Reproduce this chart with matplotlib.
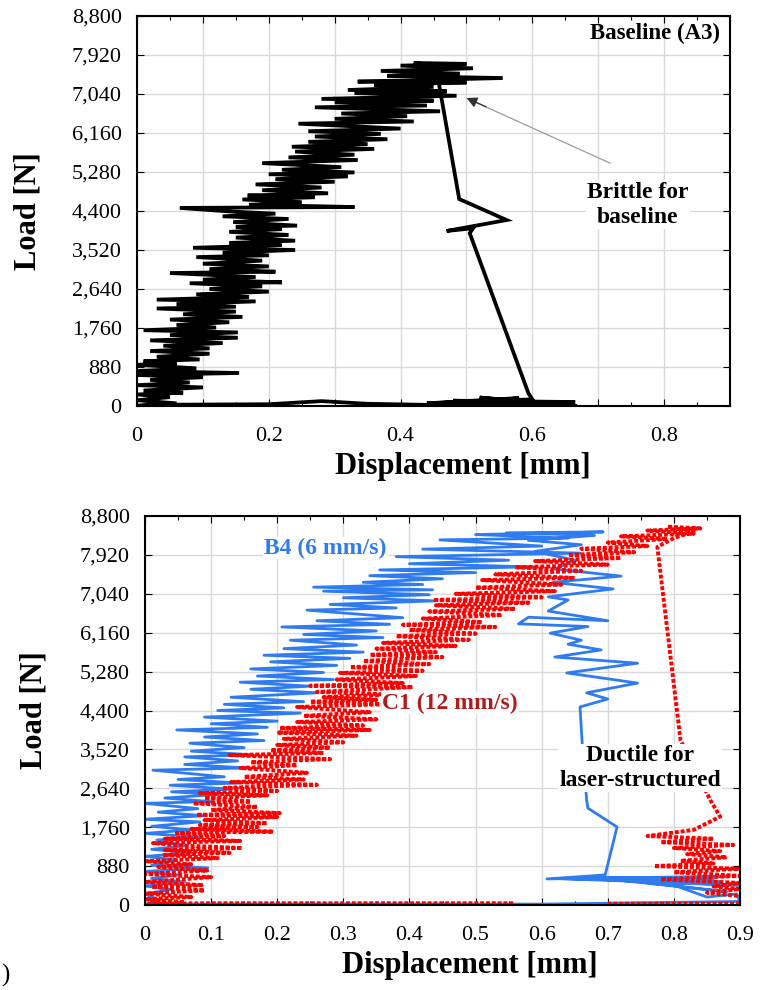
import numpy as np
import matplotlib
matplotlib.use("Agg")
import matplotlib.pyplot as plt
from matplotlib.ticker import FixedLocator, FuncFormatter, MultipleLocator

plt.rcParams['font.family'] = ['Liberation Serif', 'DejaVu Serif']

nan = np.nan

# ---------------- data (displacement mm, load N) ----------------
# Baseline A3 (top panel)
base_pts = [
    (0.00, 0), (0.06, 60), (0.00, 130), (0.05, 200), (0.00, 260), (0.07, 300),
    (0.01, 350), (0.10, 420), (0.00, 470), (0.08, 530), (0.02, 590), (0.10, 650),
    (0.00, 700), (0.155, 745), (0.00, 790), (0.09, 850), (0.00, 930), (0.06, 960),
    (0.01, 1010), (0.095, 1050), (0.03, 1110), (0.11, 1180), (0.02, 1240), (0.11, 1300),
    (0.04, 1360), (0.13, 1420), (0.02, 1480), (0.153, 1540), (0.05, 1600), (0.153, 1660),
    (0.01, 1710), (0.12, 1770), (0.06, 1830), (0.14, 1890), (0.05, 1950), (0.16, 2010),
    (0.07, 2070), (0.15, 2130), (0.03, 2200), (0.15, 2240), (0.06, 2300), (0.18, 2360),
    (0.03, 2400), (0.17, 2460), (0.09, 2520), (0.20, 2580), (0.11, 2640), (0.19, 2700),
    (0.08, 2770), (0.22, 2790), (0.10, 2850), (0.18, 2910), (0.05, 3000), (0.21, 3030),
    (0.11, 3090), (0.20, 3150), (0.10, 3210), (0.19, 3280), (0.09, 3360), (0.20, 3400),
    (0.13, 3460), (0.24, 3520), (0.085, 3570), (0.22, 3630), (0.14, 3680), (0.24, 3730),
    (0.15, 3800), (0.23, 3860), (0.14, 3930), (0.22, 3990), (0.15, 4040), (0.243, 4070),
    (0.146, 4150), (0.23, 4220), (0.13, 4280), (0.21, 4340), (0.14, 4390), (0.065, 4470),
    (0.33, 4490), (0.17, 4540), (0.25, 4600), (0.16, 4660), (0.27, 4710), (0.168, 4750),
    (0.29, 4800), (0.19, 4870), (0.28, 4930), (0.18, 5000), (0.30, 5060), (0.21, 5120),
    (0.32, 5180), (0.20, 5230), (0.33, 5270), (0.22, 5330), (0.31, 5390), (0.19, 5480),
    (0.335, 5550), (0.23, 5610), (0.33, 5670), (0.24, 5740), (0.36, 5800), (0.235, 5850),
    (0.35, 5910), (0.26, 5960), (0.38, 6020), (0.27, 6080), (0.37, 6140), (0.26, 6200),
    (0.40, 6260), (0.245, 6370), (0.42, 6420), (0.30, 6480), (0.41, 6540), (0.31, 6600),
    (0.46, 6650), (0.27, 6740), (0.44, 6780), (0.30, 6850), (0.45, 6890), (0.28, 6930),
    (0.485, 7000), (0.33, 7060), (0.47, 7100), (0.32, 7130), (0.45, 7200), (0.36, 7250),
    (0.50, 7300), (0.335, 7320), (0.555, 7400), (0.38, 7450), (0.49, 7500), (0.37, 7560),
    (0.51, 7620), (0.40, 7680), (0.50, 7720), (0.42, 7740), (0.47, 7650), (0.455, 7550),
    (0.489, 4670), (0.561, 4196), (0.47, 3950), (0.51, 4010), (0.505, 3900),
    (0.594, 290), (0.60, 150), (0.44, 60), (0.58, 180), (0.50, 40), (0.665, 90),
    (0.48, 120), (0.64, 30), (0.52, 190), (0.668, 0), (0.46, 20), (0.35, 50),
    (0.28, 110), (0.20, 40), (0.06, 30), (0.00, 10),
]
base_disp = [p[0] for p in base_pts]
base_load = [p[1] for p in base_pts]

# B4 (6 mm/s), bottom panel
b4_pts = [
    (0.00, 0), (0.02, 120), (0.00, 250), (0.04, 350), (0.00, 430), (0.06, 520),
    (0.01, 600), (0.05, 680), (0.00, 760), (0.095, 840), (0.01, 900), (0.048, 1018),
    (0.00, 1100), (0.07, 1180), (0.01, 1260), (0.06, 1340), (0.018, 1470), (0.08, 1540),
    (0.00, 1620), (0.07, 1700), (0.01, 1780), (0.083, 1880), (0.00, 1940), (0.09, 2020),
    (0.02, 2100), (0.08, 2180), (0.00, 2300), (0.10, 2340), (0.03, 2420), (0.11, 2500),
    (0.04, 2560), (0.13, 2620), (0.038, 2710), (0.144, 2760), (0.05, 2840), (0.12, 2900),
    (0.012, 3050), (0.154, 3100), (0.06, 3180), (0.14, 3260), (0.06, 3350), (0.16, 3400),
    (0.07, 3480), (0.15, 3560), (0.068, 3660), (0.18, 3720), (0.09, 3800), (0.17, 3870),
    (0.048, 3960), (0.185, 4020), (0.10, 4100), (0.20, 4160), (0.09, 4250), (0.235, 4340),
    (0.11, 4400), (0.21, 4460), (0.12, 4540), (0.24, 4600), (0.13, 4700), (0.26, 4800),
    (0.16, 4880), (0.25, 4950), (0.144, 5040), (0.285, 5100), (0.17, 5180), (0.27, 5260),
    (0.16, 5340), (0.29, 5420), (0.19, 5500), (0.31, 5580), (0.18, 5650), (0.33, 5720),
    (0.21, 5800), (0.32, 5880), (0.22, 5990), (0.36, 6050), (0.24, 6120), (0.35, 6200),
    (0.207, 6290), (0.37, 6350), (0.26, 6430), (0.39, 6500), (0.245, 6670), (0.38, 6720),
    (0.28, 6800), (0.44, 6880), (0.30, 6950), (0.43, 7020), (0.27, 7100), (0.435, 7130),
    (0.255, 7190), (0.42, 7250), (0.33, 7300), (0.45, 7380), (0.34, 7450), (0.50, 7520),
    (0.355, 7580), (0.587, 7650), (0.40, 7720), (0.55, 7800), (0.38, 7880), (0.658, 7960),
    (0.42, 8050), (0.60, 8120), (0.446, 8260), (0.64, 8300), (0.50, 8380), (0.693, 8440),
    (0.547, 8420), (0.68, 8360), (0.58, 8250), (0.66, 8150), (0.59, 8000), (0.65, 7800),
    (0.62, 7600), (0.72, 7440), (0.617, 7300), (0.708, 7150), (0.61, 6970), (0.64, 6900),
    (0.61, 6650), (0.70, 6430), (0.58, 6510), (0.565, 6360), (0.67, 6300), (0.613, 6150),
    (0.66, 5990), (0.64, 5900), (0.69, 5770), (0.62, 5610), (0.745, 5470), (0.638, 5250),
    (0.745, 5020), (0.668, 4800), (0.70, 4660), (0.658, 4480), (0.661, 3730), (0.668, 2375),
    (0.67, 2190), (0.714, 1765), (0.696, 680), (0.608, 590), (0.88, 650), (0.70, 560),
    (0.87, 520), (0.62, 600), (0.90, 450), (0.75, 520), (0.88, 300), (0.68, 620),
    (0.86, 600), (0.80, 450), (0.85, 180), (0.895, 250), (0.90, 80), (0.60, 20),
    (0.30, 25), (0.00, 20),
]
b4_disp = [p[0] for p in b4_pts]
b4_load = [p[1] for p in b4_pts]

# C1 (12 mm/s), bottom panel
c1_pts = [
    (0.00, 0), (0.06, 60), (0.00, 130), (0.07, 180), (0.00, 260), (0.09, 330),
    (0.01, 410), (0.088, 450), (0.00, 520), (0.10, 630), (0.00, 700), (0.094, 780),
    (0.02, 860), (0.07, 920), (0.00, 990), (0.11, 1060), (0.027, 1130), (0.128, 1180),
    (0.03, 1240), (0.147, 1290), (0.05, 1350), (0.012, 1400), (0.144, 1450), (0.03, 1500),
    (0.12, 1560), (0.048, 1630), (0.194, 1660), (0.07, 1720), (0.17, 1760), (0.083, 1810),
    (0.185, 1850), (0.09, 1920), (0.20, 1990), (0.078, 2040), (0.204, 2080), (0.10, 2150),
    (0.17, 2220), (0.073, 2300), (0.16, 2340), (0.09, 2420), (0.185, 2480), (0.083, 2530),
    (0.20, 2580), (0.12, 2650), (0.26, 2720), (0.13, 2780), (0.24, 2840), (0.15, 2900),
    (0.245, 2990), (0.144, 3100), (0.23, 3160), (0.16, 3230), (0.28, 3300), (0.128, 3390),
    (0.27, 3440), (0.19, 3500), (0.28, 3560), (0.20, 3620), (0.30, 3680), (0.21, 3760),
    (0.32, 3830), (0.20, 3900), (0.34, 3960), (0.204, 4000), (0.33, 4060), (0.23, 4140),
    (0.35, 4200), (0.24, 4280), (0.34, 4360), (0.23, 4480), (0.36, 4540), (0.25, 4600),
    (0.35, 4640), (0.27, 4700), (0.38, 4760), (0.26, 4820), (0.405, 4930), (0.25, 4960),
    (0.39, 5020), (0.29, 5100), (0.41, 5180), (0.295, 5250), (0.42, 5300), (0.31, 5380),
    (0.43, 5450), (0.33, 5520), (0.45, 5610), (0.34, 5660), (0.44, 5720), (0.35, 5800),
    (0.47, 5860), (0.36, 5930), (0.49, 6000), (0.38, 6080), (0.50, 6140), (0.40, 6220),
    (0.53, 6290), (0.39, 6340), (0.51, 6400), (0.42, 6480), (0.54, 6560), (0.43, 6640),
    (0.56, 6700), (0.44, 6780), (0.58, 6840), (0.436, 6900), (0.60, 6960), (0.47, 7040),
    (0.62, 7100), (0.50, 7180), (0.63, 7250), (0.51, 7350), (0.65, 7400), (0.53, 7480),
    (0.66, 7560), (0.56, 7640), (0.70, 7700), (0.59, 7780), (0.72, 7850), (0.64, 7920),
    (0.74, 7980), (0.66, 8060), (0.76, 8120), (0.70, 8200), (0.79, 8280), (0.72, 8340),
    (0.83, 8400), (0.76, 8470), (0.84, 8520), (0.79, 8560), (0.83, 8450), (0.80, 8300),
    (0.775, 8100), (0.81, 3730), (0.855, 2375), (0.87, 2000), (0.83, 1700), (0.76, 1560),
    (0.86, 1500), (0.78, 1420), (0.89, 1360), (0.80, 1290), (0.87, 1220), (0.82, 1150),
    (0.88, 1080), (0.81, 1000), (0.86, 940), (0.77, 880), (0.90, 820), (0.80, 740),
    (0.90, 660), (0.78, 580), (0.90, 500), (0.86, 420), (0.90, 360), (0.85, 280),
    (0.90, 200), (0.93, 100), (0.90, 30), (0.70, 30), (nan, nan), (0.557, 40),
    (0.10, 40), (0.00, 30),
]
c1_disp = [p[0] for p in c1_pts]
c1_load = [p[1] for p in c1_pts]

load_ticks = [0, 880, 1760, 2640, 3520, 4400, 5280, 6160, 7040, 7920, 8800]
top_xticks = [0, 0.1, 0.2, 0.3, 0.4, 0.5, 0.6, 0.7, 0.8, 0.9]
top_xlabels = ['0', '', '0.2', '', '0.4', '', '0.6', '', '0.8', '']
bot_xlabels = ['0', '0.1', '0.2', '0.3', '0.4', '0.5', '0.6', '0.7', '0.8', '0.9']

black = '#000000'
blue = '#2f7bf0'
red = '#ff0000'
darkred = '#b01c1c'

fig = plt.figure(figsize=(7.62, 9.90), dpi=100)
ax1 = fig.add_axes([137/762, 1-406/990, (730-137)/762, (406-16)/990])
ax2 = fig.add_axes([145/762, 1-905/990, (740-145)/762, (905-516)/990])


def style(ax, xlabels):
    ax.set_xlim(0, 0.9)
    ax.set_ylim(0, 8800)
    ax.xaxis.set_major_locator(FixedLocator(top_xticks))
    ax.set_xticklabels(xlabels)
    ax.xaxis.set_minor_locator(MultipleLocator(0.05))
    ax.yaxis.set_major_locator(FixedLocator(load_ticks))
    ax.yaxis.set_major_formatter(FuncFormatter(lambda v, p: f"{int(round(v)):,}"))
    ax.grid(True, which='major', color='#d9d9d9', lw=1.0)
    ax.set_axisbelow(True)
    ax.tick_params(which='both', direction='in', top=True, right=True, colors=black)
    ax.tick_params(which='major', length=5, width=0.8, labelsize=16)
    ax.tick_params(which='minor', length=3, width=0.8)
    ax.tick_params(axis='x', which='major', pad=15)
    ax.tick_params(axis='y', which='major', pad=11)
    for s in ax.spines.values():
        s.set_linewidth(1.5)
        s.set_color(black)
    ax.set_xlabel('Displacement [mm]', fontsize=22, fontweight='bold')
    ax.set_ylabel('Load [N]', fontsize=22, fontweight='bold')


style(ax1, top_xlabels)
style(ax2, bot_xlabels)
ax1.xaxis.set_label_coords(0.55, -0.118)
ax1.yaxis.set_label_coords(-0.16, 0.50)
ax2.xaxis.set_label_coords(0.546, -0.118)
ax2.yaxis.set_label_coords(-0.162, 0.50)

# top panel
ax1.plot(base_disp, base_load, color=black, lw=2.7, solid_joinstyle='miter')
ax1.text(0.983, 0.956, 'Baseline (A3)', transform=ax1.transAxes, ha='right', va='center',
         fontsize=16.5, fontweight='bold')
ax1.text(0.76, 4540, 'Brittle for\nbaseline', ha='center', va='center', fontsize=17,
         fontweight='bold', linespacing=1.25,
         bbox=dict(facecolor='white', edgecolor='none', pad=1))
ax1.annotate('', xy=(0.51, 6880), xytext=(0.718, 5480),
             arrowprops=dict(arrowstyle='-', color='#9a9a9a', lw=0.9,
                             shrinkA=0, shrinkB=0))
ax1.annotate('', xy=(0.50, 6950), xytext=(0.53, 6750),
             arrowprops=dict(arrowstyle='-|>', color='#333333', lw=0.9,
                             mutation_scale=16, shrinkA=0, shrinkB=0))

# bottom panel
ax2.plot(b4_disp, b4_load, color=blue, lw=2.0)
ax2.plot(c1_disp, c1_load, color=red, lw=2.8, linestyle=(0, (1.0, 0.5)), dash_capstyle='butt')
ax2.text(0.18, 8075, 'B4 (6 mm/s)', color=blue, ha='left', va='center', fontsize=17,
         fontweight='bold', bbox=dict(facecolor='white', edgecolor='none', pad=0.5))
ax2.text(0.3585, 4570, 'C1 (12 mm/s)', color=darkred, ha='left', va='center', fontsize=17,
         fontweight='bold', bbox=dict(facecolor='white', edgecolor='none', pad=0.5))
ax2.text(0.749, 3100, 'Ductile for\nlaser-structured', ha='center', va='center', fontsize=17,
         fontweight='bold', linespacing=1.25,
         bbox=dict(facecolor='white', edgecolor='none', pad=1))

fig.text(0.001, 0.003, ')', ha='left', va='bottom', fontsize=18)

fig.savefig('out.png', dpi=100)
